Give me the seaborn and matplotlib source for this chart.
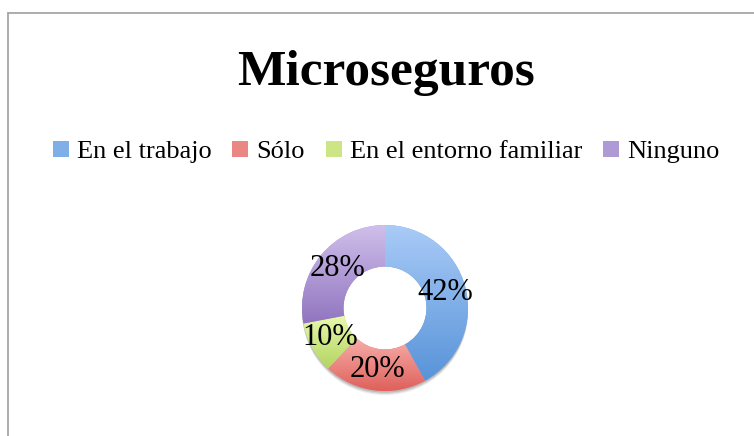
import numpy as np
import matplotlib
matplotlib.use("Agg")
import matplotlib.pyplot as plt
import seaborn as sns
from matplotlib.colors import LinearSegmentedColormap
from matplotlib.patches import Patch, Circle
from matplotlib.lines import Line2D

sns.set_theme(style="white", rc={"figure.dpi": 100, "text.color": "black"})
plt.rcParams["font.family"] = ["Liberation Serif", "DejaVu Serif"]

categories = ["En el trabajo", "Sólo", "En el entorno familiar", "Ninguno"]
values = [42, 20, 10, 28]
title = "Microseguros"

# (light top, dark bottom) of each slice gradient
grad_colors = [("#a9cbf7", "#5893d9"),
               ("#f7aeaa", "#df605b"),
               ("#e8f9ab", "#b2d460"),
               ("#d0bfeb", "#9075bf")]
mid_colors = [sns.blend_palette(c, 3)[1] for c in grad_colors]

W, H = 754, 436
fig = plt.figure(figsize=(W / 100, H / 100), dpi=100)

# chart frame (only top and left edges visible)
fig.add_artist(Line2D([8 / W, 1], [1 - 13 / H, 1 - 13 / H], color="#a6a6a6", lw=1.3))
fig.add_artist(Line2D([8 / W, 8 / W], [1 - 13 / H, 0], color="#a6a6a6", lw=1.3))

fig.text(386 / W, 1 - 73 / H, title, ha="center", va="center",
         fontsize=37, fontweight="bold", color="black")

# donut
cx, cy, r = 385, 308, 83
ax = fig.add_axes([(cx - r) / W, 1 - (cy + r) / H, 2 * r / W, 2 * r / H])
wedges, texts, autotexts = ax.pie(values, startangle=90, counterclock=False,
                                  colors=mid_colors, radius=1.0,
                                  wedgeprops=dict(width=0.5, linewidth=0),
                                  autopct="%1.0f%%", pctdistance=0.75,
                                  textprops=dict(fontsize=22, color="black"))

# soft shadow under the outer edge only
for k, a in [(0.05, 0.07), (0.035, 0.1), (0.02, 0.12)]:
    ax.add_patch(Circle((0, -k), 1.0, facecolor="black", alpha=a, lw=0, zorder=0.2, clip_on=False))
ax.add_patch(Circle((0, 0), 0.5, facecolor="white", lw=0, zorder=0.3, clip_on=False))

grad = np.linspace(0, 1, 256).reshape(-1, 1)
for w, (c0, c1) in zip(wedges, grad_colors):
    ext = w.get_path().get_extents()
    cmap = LinearSegmentedColormap.from_list("g", [c0, c1])
    im = ax.imshow(grad, cmap=cmap, aspect="auto", origin="upper",
                   extent=(ext.x0, ext.x1, ext.y0, ext.y1), zorder=w.get_zorder() + 0.1)
    im.set_clip_path(w)
for t in autotexts:
    t.set_zorder(5)
ax.set_xlim(-1, 1)
ax.set_ylim(-1, 1)
ax.set_aspect("auto")
ax.axis("off")

handles = [Patch(facecolor=c, edgecolor="none") for c in mid_colors]
fig.legend(handles, categories, loc="center", bbox_to_anchor=(386 / W, 1 - 152 / H),
           ncol=4, frameon=False, fontsize=19, handlelength=0.6, handleheight=0.6,
           handletextpad=0.3, columnspacing=0.8, labelcolor="black")

fig.savefig("out.png", dpi=100, facecolor="white")
